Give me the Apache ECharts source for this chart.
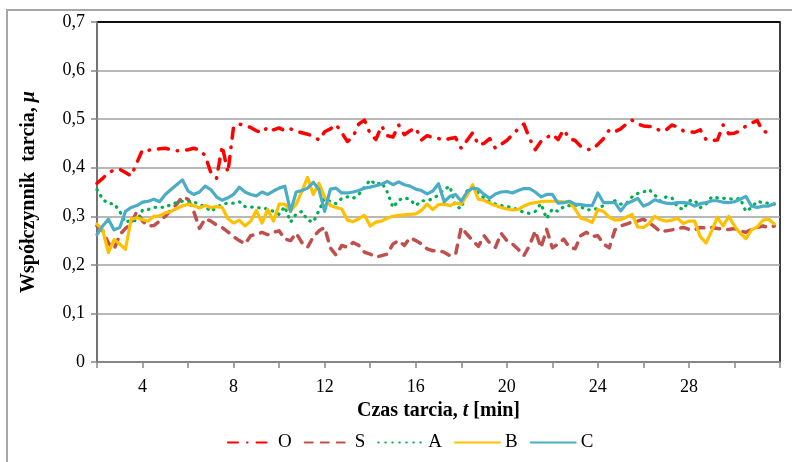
<!DOCTYPE html>
<html>
<head>
<meta charset="utf-8">
<script src="https://cdn.jsdelivr.net/npm/echarts@6/dist/echarts.min.js"></script>
<style>
html,body{margin:0;padding:0;background:#fff;}
#chart{width:792px;height:462px;}
</style>
</head>
<body>
<div id="chart"></div>
<script>
const time = [
2,2.25,2.5,2.75,3,3.25,3.5,3.75,
4,4.25,4.5,4.75,5,5.25,5.5,5.75,
6,6.25,6.5,6.75,7,7.25,7.5,7.75,
8,8.25,8.5,8.75,9,9.25,9.5,9.75,
10,10.25,10.5,10.75,11,11.25,11.5,11.75,
12,12.25,12.5,12.75,13,13.25,13.5,13.75,
14,14.25,14.5,14.75,15,15.25,15.5,15.75,
16,16.25,16.5,16.75,17,17.25,17.5,17.75,
18,18.25,18.5,18.75,19,19.25,19.5,19.75,
20,20.25,20.5,20.75,21,21.25,21.5,21.75,
22,22.25,22.5,22.75,23,23.25,23.5,23.75,
24,24.25,24.5,24.75,25,25.25,25.5,25.75,
26,26.25,26.5,26.75,27,27.25,27.5,27.75,
28,28.25,28.5,28.75,29,29.25,29.5,29.75,
30,30.25,30.5,30.75,31,31.25,31.5,31.75
];
const seriesO = [
0.368,0.378,0.39,0.395,0.397,0.39,0.383,0.41,
0.437,0.436,0.437,0.439,0.44,0.437,0.435,0.435,
0.437,0.44,0.437,0.425,0.39,0.378,0.445,0.39,
0.485,0.49,0.486,0.483,0.476,0.472,0.484,0.478,
0.482,0.476,0.48,0.475,0.472,0.469,0.465,0.457,
0.474,0.48,0.489,0.472,0.454,0.464,0.49,0.498,
0.47,0.458,0.486,0.466,0.463,0.488,0.468,0.476,
0.482,0.457,0.466,0.462,0.46,0.457,0.46,0.462,
0.44,0.456,0.472,0.447,0.45,0.46,0.44,0.448,
0.456,0.468,0.48,0.49,0.46,0.437,0.454,0.462,
0.469,0.458,0.478,0.46,0.456,0.444,0.438,0.437,
0.448,0.46,0.478,0.474,0.48,0.49,0.498,0.49,
0.486,0.485,0.484,0.475,0.478,0.488,0.484,0.476,
0.474,0.473,0.478,0.458,0.456,0.457,0.488,0.47,
0.471,0.476,0.486,0.492,0.497,0.475,0.472,0.471
];
const seriesS = [
0.28,0.27,0.245,0.232,0.262,0.275,0.285,0.31,
0.29,0.28,0.281,0.29,0.30,0.313,0.325,0.34,
0.335,0.31,0.275,0.295,0.29,0.282,0.277,0.268,
0.258,0.25,0.243,0.26,0.263,0.267,0.262,0.267,
0.27,0.253,0.25,0.265,0.246,0.236,0.258,0.27,
0.277,0.235,0.22,0.24,0.236,0.246,0.24,0.226,
0.222,0.216,0.219,0.222,0.243,0.25,0.24,0.256,
0.25,0.243,0.233,0.229,0.229,0.226,0.219,0.222,
0.277,0.263,0.25,0.238,0.26,0.245,0.236,0.265,
0.25,0.243,0.232,0.219,0.24,0.27,0.235,0.273,
0.235,0.243,0.253,0.236,0.233,0.26,0.267,0.258,
0.26,0.243,0.235,0.272,0.28,0.284,0.288,0.29,
0.294,0.287,0.278,0.268,0.27,0.272,0.275,0.277,
0.273,0.272,0.277,0.276,0.277,0.275,0.273,0.273,
0.275,0.27,0.267,0.273,0.277,0.28,0.277,0.28
];
const seriesA = [
0.355,0.335,0.326,0.326,0.31,0.287,0.293,0.29,
0.313,0.314,0.318,0.319,0.318,0.325,0.328,0.331,
0.331,0.33,0.324,0.32,0.31,0.318,0.325,0.327,
0.327,0.33,0.32,0.319,0.318,0.317,0.315,0.31,
0.304,0.32,0.288,0.305,0.31,0.292,0.288,0.312,
0.337,0.33,0.326,0.337,0.34,0.337,0.345,0.36,
0.375,0.365,0.37,0.35,0.318,0.333,0.338,0.335,
0.322,0.332,0.332,0.336,0.344,0.355,0.362,0.32,
0.316,0.352,0.36,0.348,0.338,0.33,0.325,0.322,
0.32,0.318,0.313,0.308,0.306,0.31,0.326,0.295,
0.315,0.31,0.32,0.322,0.323,0.32,0.313,0.314,
0.316,0.322,0.33,0.332,0.325,0.326,0.34,0.347,
0.35,0.355,0.344,0.331,0.34,0.338,0.319,0.314,
0.332,0.333,0.318,0.325,0.34,0.338,0.337,0.336,
0.335,0.337,0.31,0.318,0.331,0.328,0.327,0.325
];
const seriesB = [
0.284,0.272,0.225,0.252,0.243,0.232,0.294,0.297,
0.293,0.29,0.3,0.301,0.307,0.31,0.316,0.321,
0.325,0.322,0.317,0.322,0.318,0.32,0.318,0.295,
0.286,0.292,0.28,0.29,0.312,0.286,0.314,0.29,
0.325,0.325,0.311,0.325,0.352,0.38,0.345,0.368,
0.34,0.322,0.318,0.315,0.292,0.289,0.295,0.302,
0.28,0.288,0.29,0.296,0.3,0.302,0.303,0.304,
0.305,0.312,0.325,0.314,0.324,0.325,0.322,0.327,
0.325,0.343,0.365,0.335,0.333,0.327,0.322,0.318,
0.315,0.313,0.314,0.321,0.326,0.328,0.33,0.331,
0.331,0.331,0.329,0.33,0.315,0.296,0.293,0.287,
0.314,0.31,0.298,0.292,0.293,0.298,0.304,0.278,
0.277,0.285,0.3,0.293,0.29,0.292,0.296,0.285,
0.29,0.29,0.258,0.245,0.27,0.298,0.28,0.3,
0.28,0.265,0.254,0.272,0.278,0.292,0.294,0.284
];
const seriesC = [
0.262,0.28,0.294,0.272,0.277,0.31,0.318,0.322,
0.329,0.331,0.335,0.33,0.345,0.355,0.365,0.375,
0.352,0.345,0.35,0.362,0.355,0.34,0.333,0.338,
0.345,0.36,0.35,0.345,0.342,0.35,0.345,0.352,
0.358,0.362,0.31,0.35,0.353,0.358,0.37,0.355,
0.31,0.356,0.358,0.348,0.348,0.35,0.353,0.358,
0.36,0.363,0.366,0.372,0.365,0.371,0.365,0.362,
0.356,0.353,0.346,0.352,0.367,0.33,0.341,0.345,
0.331,0.35,0.358,0.356,0.345,0.337,0.346,0.35,
0.351,0.348,0.353,0.357,0.357,0.35,0.34,0.345,
0.345,0.327,0.328,0.331,0.325,0.324,0.322,0.322,
0.348,0.328,0.328,0.328,0.311,0.326,0.331,0.337,
0.321,0.326,0.334,0.33,0.327,0.326,0.328,0.328,
0.327,0.321,0.326,0.328,0.332,0.332,0.329,0.328,
0.33,0.335,0.341,0.321,0.318,0.321,0.321,0.326
];
const seriesNames = ['O','S','A','B','C'];
const xTickLabels = [4,8,12,16,20,24,28];

const FONT = 'Liberation Serif';
function pairs(vals){ return time.map((t,i)=>[t, vals[i]]); }

const chart = echarts.init(document.getElementById('chart'), null, {renderer:'canvas'});
const mk = (name, vals, color, width, type) => ({
  name, type:'line', data: pairs(vals), symbol:'none', showSymbol:false,
  lineStyle:{color, width, type, cap:'round', join:'round'},
  itemStyle:{color}, animation:false
});
chart.setOption({
  animation:false,
  backgroundColor:'#fff',
  graphic:[{type:'rect', shape:{x:7,y:10,width:800,height:500}, style:{fill:'none', stroke:'#a6a6a6', lineWidth:2}, silent:true, z:-1}],
  grid:{left:97, right:12, top:22, bottom:100, show:true, borderColor:'#000', borderWidth:1.5, backgroundColor:'transparent'},
  legend:{
    data:seriesNames, left:222, top:428, itemWidth:45, itemHeight:10, itemGap:12,
    itemStyle:{opacity:0},
    textStyle:{fontFamily:FONT, fontSize:19, color:'#000', padding:[0,0,0,0]}
  },
  xAxis:{
    type:'value', min:2, max:32, interval:2,
    name:'{a|Czas tarcia, }{b|t}{a| [min]}', nameLocation:'middle', nameGap:39,
    nameTextStyle:{rich:{
      a:{fontFamily:FONT, fontSize:20, fontWeight:'bold', color:'#000'},
      b:{fontFamily:FONT, fontSize:20, fontWeight:'bold', fontStyle:'italic', color:'#000'}
    }},
    axisLine:{lineStyle:{color:'#868686', width:1.5}},
    axisTick:{show:true, length:6, lineStyle:{color:'#868686', width:1.5}},
    axisLabel:{fontFamily:FONT, fontSize:18, color:'#000', margin:16,
      formatter:v => xTickLabels.indexOf(v) >= 0 ? String(v) : ''},
    splitLine:{show:false}
  },
  yAxis:{
    type:'value', min:0, max:0.7, interval:0.1,
    name:'{a|Współczynnik  tarcia, }{b|μ}', nameLocation:'middle', nameGap:58, nameRotate:90,
    nameTextStyle:{rich:{
      a:{fontFamily:FONT, fontSize:20, fontWeight:'bold', color:'#000'},
      b:{fontFamily:FONT, fontSize:20, fontWeight:'bold', fontStyle:'italic', color:'#000'}
    }},
    axisLine:{show:true, lineStyle:{color:'#868686', width:1.5}},
    axisTick:{show:true, length:6, lineStyle:{color:'#868686', width:1.5}},
    axisLabel:{fontFamily:FONT, fontSize:18, color:'#000', margin:12,
      formatter:v => v === 0 ? '0' : v.toFixed(1).replace('.', ',')},
    splitLine:{show:true, lineStyle:{color:['#a0a0a0','#a0a0a0','#a0a0a0','#a0a0a0','#a0a0a0','#a0a0a0','#a0a0a0','#000'], width:1.5}}
  },
  series:[
    mk('O', seriesO, '#FF0000', 3.5, [10,9,0.5,9]),
    mk('S', seriesS, '#C0504D', 3.5, [8,8]),
    mk('A', seriesA, '#00B050', 3.2, [0.5,6.5]),
    mk('B', seriesB, '#FFC000', 3.2, 'solid'),
    mk('C', seriesC, '#4BACC6', 3.2, 'solid')
  ]
});
</script>
</body>
</html>
